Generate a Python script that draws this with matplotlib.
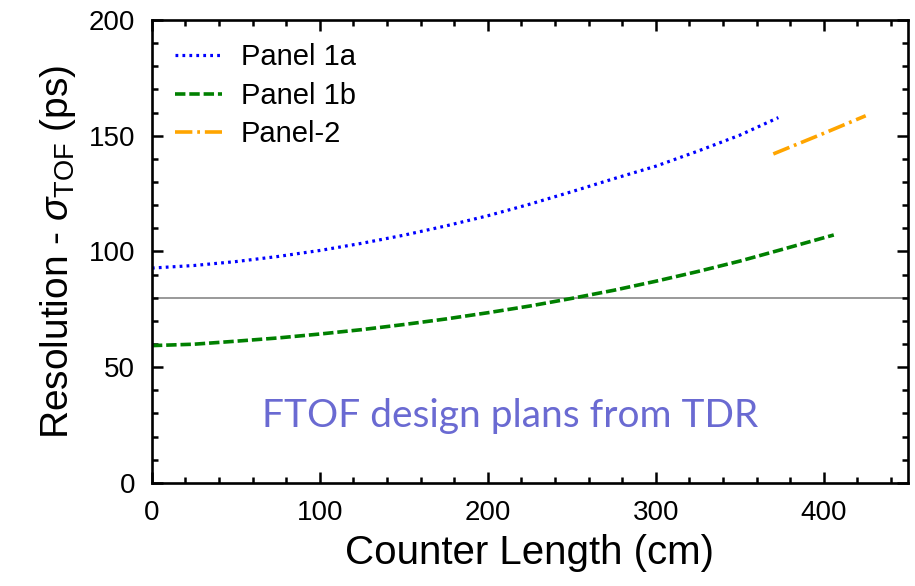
import matplotlib
matplotlib.use("Agg")
import matplotlib.pyplot as plt
from matplotlib.ticker import MultipleLocator

plt.rcParams['font.family'] = ['Liberation Sans', 'DejaVu Sans']
plt.rcParams['mathtext.fontset'] = 'custom'
plt.rcParams['mathtext.rm'] = 'Liberation Sans'
plt.rcParams['mathtext.it'] = 'Liberation Sans:italic'
plt.rcParams['lines.scale_dashes'] = False

# Counter length (cm) and time-of-flight resolution (ps)
length_1a = [0, 25, 50, 75, 100, 125, 150, 175, 200, 225, 250, 275, 300, 325, 350, 373]
sigma_1a = [92.8, 93.9, 95.6, 97.8, 100.4, 103.5, 107.0, 111.0, 115.4, 120.4,
             125.8, 131.4, 136.8, 143.3, 150.2, 157.8]

length_1b = [0, 25, 50, 75, 100, 125, 150, 175, 200, 225, 250, 275, 300, 325, 350, 375, 406]
sigma_1b = [59.3, 59.9, 61.2, 62.6, 64.3, 66.2, 68.4, 70.8, 73.5, 76.4, 79.7,
             83.2, 87.1, 91.3, 95.8, 100.8, 107.1]

length_2 = [370, 400, 425]
sigma_2 = [142.1, 151.0, 158.6]

target_sigma = 80
labels = ["Panel 1a", "Panel 1b", "Panel-2"]
note = "FTOF design plans from TDR"

fig = plt.figure(figsize=(9.15, 5.86), dpi=100)
ax = fig.add_axes([0.166, 0.176, 0.826, 0.790])

ax.axhline(target_sigma, color='#999999', lw=1.4, zorder=1)
ax.plot(length_1a, sigma_1a, color='#0000ff', lw=2.3,
        linestyle=(0, (2.0, 3.0)), dash_capstyle='butt', label=labels[0])
ax.plot(length_1b, sigma_1b, color='#008000', lw=2.6,
        linestyle=(0, (7.5, 2.8)), dash_capstyle='butt', label=labels[1])
ax.plot(length_2, sigma_2, color='#ffa500', lw=2.6,
        linestyle=(0, (12.5, 3.5, 2.0, 3.5)), dash_capstyle='butt', label=labels[2])

ax.set_xlim(0, 450)
ax.set_ylim(0, 200)
ax.xaxis.set_major_locator(MultipleLocator(100))
ax.xaxis.set_minor_locator(MultipleLocator(20))
ax.yaxis.set_major_locator(MultipleLocator(50))
ax.yaxis.set_minor_locator(MultipleLocator(10))
ax.tick_params(which='both', direction='in', top=True, right=True, width=1.8)
ax.tick_params(which='major', length=8, labelsize=20, pad=12)
ax.tick_params(which='minor', length=4.5)
for s in ax.spines.values():
    s.set_linewidth(1.9)

ax.set_xlabel("Counter Length (cm)", fontsize=29, labelpad=6)
ax.set_ylabel(r"Resolution - $\sigma_{\rm TOF}$ (ps)", fontsize=28, labelpad=8)

ax.text(213, 29, note, color='#6a6ad2', fontsize=28, family=['Lato', 'DejaVu Sans'],
        ha='center', va='center')

leg = ax.legend(loc='upper left', frameon=False, fontsize=21, handlelength=1.6,
                handletextpad=0.65, labelspacing=0.36, borderaxespad=0.5,
                borderpad=0.3)

fig.savefig("out.png", dpi=100)
